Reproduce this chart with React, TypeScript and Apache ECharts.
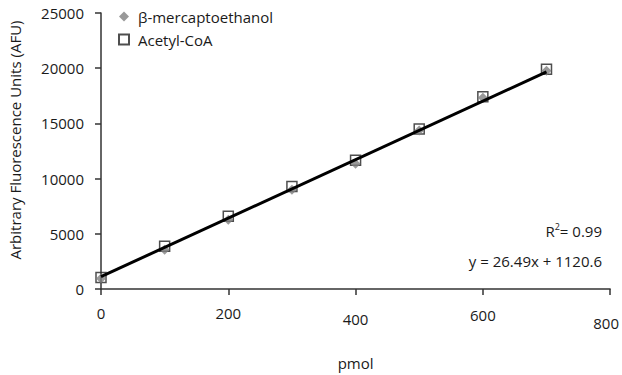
import React, { useEffect, useRef } from "react";
import * as echarts from "echarts";

const pmol = [0, 100, 200, 300, 400, 500, 600, 700];
const mercaptoethanol = [955, 3545, 6280, 8990, 11340, 14350, 17320, 19760];
const acetylCoA = [1050, 3870, 6580, 9290, 11670, 14490, 17410, 19910];
const xTicks = [0, 200, 400, 600, 800];
const yTicks = [0, 5000, 10000, 15000, 20000, 25000];
const slope = 26.49;
const intercept = 1120.6;
const fitRange = [0, 700];

const FONT = "'Open Sans', 'Noto Sans', sans-serif";
const TXT = "#1a1a1a";

export default function App() {
  const ref = useRef<HTMLDivElement>(null);
  useEffect(() => {
    if (!ref.current) return;
    const chart = echarts.init(ref.current, undefined, { renderer: "svg" });
    const labelPad: Record<string, number> = { "0": 0, "200": 0, "400": 3, "600": 1, "800": 5 };
    chart.setOption({
      animation: false,
      backgroundColor: "#fff",
      textStyle: { fontFamily: FONT },
      grid: { left: 101, right: 11, top: 13, bottom: 81, containLabel: false },
      legend: {
        orient: "vertical",
        left: 113,
        top: 4,
        itemWidth: 10,
        itemHeight: 10,
        itemGap: 8,
        data: ["β-mercaptoethanol", "Acetyl-CoA"],
        textStyle: { fontFamily: FONT, fontSize: 15, color: TXT, padding: [0, 0, 0, 4] },
      },
      xAxis: {
        type: "value",
        min: xTicks[0],
        max: xTicks[xTicks.length - 1],
        interval: 200,
        splitLine: { show: false },
        axisLine: { lineStyle: { color: "#333", width: 1.5 } },
        axisTick: { length: 6, lineStyle: { color: "#333", width: 1.5 } },
        axisLabel: {
          margin: 16,
          formatter: (v: number) => `{p${labelPad[String(v)] ?? 0}|${v}}`,
          rich: {
            p0: { fontSize: 15, color: TXT, fontFamily: FONT },
            p1: { fontSize: 15, color: TXT, fontFamily: FONT, padding: [2, 0, 0, 0] },
            p3: { fontSize: 15, color: TXT, fontFamily: FONT, padding: [6, 0, 0, 0] },
            p5: { fontSize: 15, color: TXT, fontFamily: FONT, padding: [10, 8, 0, 0] },
          },
        },
        name: "pmol",
        nameLocation: "middle",
        nameGap: 66,
        nameTextStyle: { fontSize: 15, color: TXT, fontFamily: FONT },
      },
      yAxis: {
        type: "value",
        min: yTicks[0],
        max: yTicks[yTicks.length - 1],
        interval: 5000,
        splitLine: { show: false },
        axisLine: { show: true, lineStyle: { color: "#333", width: 1.5 } },
        axisTick: { show: true, length: 6, lineStyle: { color: "#333", width: 1.5 } },
        axisLabel: {
          margin: 17,
          fontSize: 15,
          color: TXT,
          fontFamily: FONT,
          formatter: (v: number) => String(v),
        },
      },
      graphic: [
        {
          type: "text",
          x: 15,
          y: 140,
          rotation: Math.PI / 2,
          style: {
            text: "Arbitrary Fluorescence Units (AFU)",
            fontSize: 15,
            fontFamily: FONT,
            fill: TXT,
            align: "center",
            verticalAlign: "middle",
          },
        },
        {
          type: "text",
          right: 20,
          top: 222,
          style: {
            text: "R{sup|2}= 0.99",
            fontSize: 15,
            fontFamily: FONT,
            fill: TXT,
            rich: { sup: { fontSize: 9, verticalAlign: "top", padding: [0, 0, 8, 0], fontFamily: FONT, fill: TXT } },
          },
        },
        {
          type: "text",
          right: 20,
          top: 253,
          style: {
            text: `y = ${slope}x + ${intercept}`,
            fontSize: 15,
            fontFamily: FONT,
            fill: TXT,
          },
        },
      ],
      series: [
        {
          name: "Acetyl-CoA",
          type: "scatter",
          symbol: "rect",
          symbolSize: 10,
          z: 2,
          itemStyle: { color: "rgba(255,255,255,0)", borderColor: "#222", borderWidth: 1.5 },
          data: pmol.map((x, i) => [x, acetylCoA[i]]),
        },
        {
          name: "β-mercaptoethanol",
          type: "scatter",
          symbol: "diamond",
          symbolSize: 10,
          z: 3,
          itemStyle: { color: "#808080" },
          data: pmol.map((x, i) => [x, mercaptoethanol[i]]),
        },
        {
          name: "fit",
          type: "line",
          showSymbol: false,
          symbol: "none",
          z: 4,
          lineStyle: { color: "#000", width: 3 },
          data: fitRange.map((x) => [x, slope * x + intercept]),
        },
      ],
    });
    return () => chart.dispose();
  }, []);
  return (
    <div
      ref={ref}
      style={{ position: "fixed", left: 0, top: 0, width: 622, height: 375 }}
    />
  );
}
